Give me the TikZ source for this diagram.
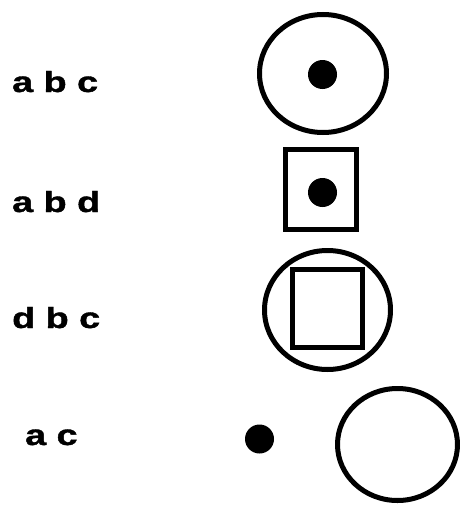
\documentclass[tikz,border=0pt]{standalone}
\usepackage{fontspec}
\setmainfont{Liberation Sans}
\newfontfamily\heavy[BoldFeatures={FakeBold=1.2}]{Liberation Sans}
\usetikzlibrary{shapes.geometric}
\begin{document}
\begin{tikzpicture}[x=1pt,y=-1pt,
  ring/.style={draw=black,line width=5pt,ellipse,inner sep=0pt,fill=none},
  boxshape/.style={draw=black,line width=5pt,rectangle,inner sep=0pt},
  dot/.style={circle,fill=black,inner sep=0pt,minimum size=29pt},
  lbl/.style={anchor=base west,inner sep=0pt,font=\heavy\fontsize{29}{29}\selectfont\bfseries}]
\useasboundingbox[fill=white] (0,0) rectangle (459,506);
% row 1
\node[lbl] (l1) at (12,92) {\scalebox{1.3}[1]{a b c}};
\node[ring,minimum width=127pt,minimum height=118pt] (c1) at (323,73.5) {};
\node[dot] (d1) at (322.5,74.5) {};
% row 2
\node[lbl] (l2) at (12,212) {\scalebox{1.3}[1]{a b d}};
\node[boxshape,minimum width=71pt,minimum height=80pt] (s2) at (321,189.5) {};
\node[dot] (d2) at (322.5,192.5) {};
% row 3
\node[lbl] (l3) at (12,328) {\scalebox{1.3}[1]{d b c}};
\node[ring,minimum width=126pt,minimum height=119pt] (c3) at (327.5,310) {};
\node[boxshape,minimum width=70pt,minimum height=78pt] (s3) at (327.5,308.5) {};
% row 4
\node[lbl] (l4) at (25,445) {\scalebox{1.3}[1]{a c}};
\node[dot] (d4) at (259.5,439) {};
\node[ring,minimum width=120pt,minimum height=112pt] (c4) at (397.5,444.5) {};
\end{tikzpicture}
\end{document}
